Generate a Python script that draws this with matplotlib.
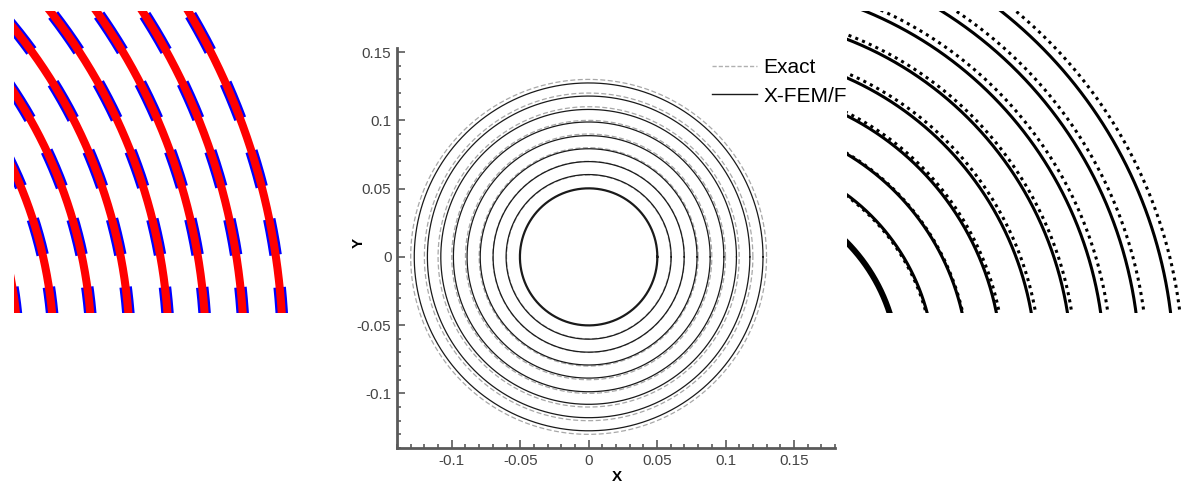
# -*- coding: utf-8 -*-

"""
同心圆界面演化对比图
左：局部放大（红色实线 / 蓝色虚线），中：整体对比，右：局部放大（实线 / 点线）
"""

import numpy as np
import matplotlib
matplotlib.use('Agg')  # 无界面后端
import matplotlib.pyplot as plt
from matplotlib.ticker import FixedLocator, MultipleLocator


# 左图各圆弧半径（放大后像素等效单位）
lstLeftRadii = [403, 439, 477, 515, 554, 591, 629, 668]

# 中图与右图：解析解半径、X-FEM 数值解半径
lstExactRadii = [0.05, 0.06, 0.07, 0.08, 0.09, 0.10, 0.11, 0.12, 0.13]
lstNumRadii = [0.0502, 0.0603, 0.0698, 0.0792, 0.0888, 0.0988, 0.1080, 0.1178, 0.1274]

# 坐标轴刻度与图例
lstTickValues = [-0.1, -0.05, 0, 0.05, 0.1, 0.15]
lstTickLabels = ['-0.1', '-0.05', '0', '0.05', '0.1', '0.15']
lstLegendLabels = ['Exact', 'X-FEM/F']


# get_arc
def get_arc(fRadius, fStart=0.0, fEnd=0.5 * np.pi, iNum=600):
	"""
	返回圆弧坐标
	"""
	arrTheta = np.linspace(fStart, fEnd, iNum)
	return fRadius * np.cos(arrTheta), fRadius * np.sin(arrTheta)


# draw_left
def draw_left(fig):
	"""
	左图：蓝色分段虚线 + 红色实线
	"""
	ax = fig.add_axes([14 / 1182, 169 / 482, 276 / 1182, 302 / 482])
	fBandStart, fBandPeriod, fBandLen = 31.0, 68.0, 36.0
	for fR in lstLeftRadii:
		arrX, arrY = get_arc(fR, iNum=3000)
		# 蓝色虚线按水平条带分段
		arrBX = arrX.copy()
		arrMask = ((arrY - fBandStart) % fBandPeriod) > fBandLen
		arrBX[arrMask] = np.nan
		ax.plot(arrBX, arrY, color='#0000ff', lw=9, solid_capstyle='butt')
		ax.plot(arrX, arrY, color='#ff0000', lw=5.8, solid_capstyle='butt')
	ax.set_xlim(399, 675)
	ax.set_ylim(41, 343)
	ax.axis('off')
	return ax


# draw_middle
def draw_middle(fig):
	"""
	中图：整体对比
	"""
	ax = fig.add_axes([397 / 1182, 34 / 482, 438 / 1182, 400 / 482])
	for fR in lstExactRadii[1:]:
		arrX, arrY = get_arc(fR, 0, 2 * np.pi, 1200)
		ax.plot(arrX, arrY, color='#a8a8a8', lw=0.9, ls=(0, (4, 2)))
	for i, fR in enumerate(lstNumRadii):
		arrX, arrY = get_arc(fR, 0, 2 * np.pi, 1200)
		ax.plot(arrX, arrY, color='#1a1a1a', lw=1.6 if i == 0 else 0.9)

	ax.set_xlim(-0.14, 0.18)
	ax.set_ylim(-0.14, 0.153)

	# 坐标轴样式
	for sSide in ['top', 'right']:
		ax.spines[sSide].set_visible(False)
	for sSide in ['left', 'bottom']:
		ax.spines[sSide].set_color('#5a5a5a')
		ax.spines[sSide].set_linewidth(2.0)
	ax.xaxis.set_major_locator(FixedLocator(lstTickValues))
	ax.yaxis.set_major_locator(FixedLocator(lstTickValues))
	ax.set_xticklabels(lstTickLabels)
	ax.set_yticklabels(lstTickLabels)
	ax.xaxis.set_minor_locator(MultipleLocator(0.01))
	ax.yaxis.set_minor_locator(MultipleLocator(0.01))
	ax.tick_params(which='both', direction='in', color='#5a5a5a', width=1.2,
				   labelsize=11, labelcolor='#444444')
	ax.tick_params(which='major', length=6, pad=4)
	ax.tick_params(which='minor', length=3)
	ax.set_xlabel('X', fontsize=11, fontweight='bold')
	ax.set_ylabel('Y', fontsize=11, fontweight='bold')
	ax.xaxis.set_label_coords(0.502, -0.055)
	ax.yaxis.set_label_coords(-0.072, 0.512)

	# 图例
	lstHandles = [
		plt.Line2D([], [], color='#b0b0b0', lw=1.0, ls=(0, (3, 1.5))),
		plt.Line2D([], [], color='#1a1a1a', lw=1.0),
	]
	ax.legend(lstHandles, lstLegendLabels, loc='upper left',
			  bbox_to_anchor=(712 / 1182, 1 - 58 / 482), bbox_transform=fig.transFigure,
			  frameon=False, fontsize=15, handlelength=2.15, handletextpad=0.3,
			  labelspacing=0.46, borderpad=0, borderaxespad=0)
	return ax


# draw_right
def draw_right(fig):
	"""
	右图：局部放大，点线为解析解，实线为数值解
	"""
	ax = fig.add_axes([847 / 1182, 169 / 482, 335 / 1182, 302 / 482])
	ax.set_zorder(5)
	ax.set_facecolor('white')
	for fR in lstExactRadii[1:]:
		arrX, arrY = get_arc(fR)
		ax.plot(arrX, arrY, color='black', lw=2.2, ls=(0, (1, 1.4)), dash_capstyle='butt')
	for i, fR in enumerate(lstNumRadii):
		arrX, arrY = get_arc(fR)
		ax.plot(arrX, arrY, color='black', lw=4.3 if i == 0 else 2.2)
	ax.set_xlim(128 / 3571, 463 / 3571)
	ax.set_ylim(55 / 3571, 357 / 3571)
	ax.set_xticks([])
	ax.set_yticks([])
	for sSide in ax.spines:
		ax.spines[sSide].set_visible(False)
	return ax


if __name__ == "__main__":
	plt.rcParams['font.family'] = ['Liberation Sans', 'DejaVu Sans']

	fig = plt.figure(figsize=(11.82, 4.82), dpi=100)
	draw_middle(fig)
	draw_left(fig)
	draw_right(fig)

	fig.savefig('out.png', dpi=100)
	plt.close(fig)
